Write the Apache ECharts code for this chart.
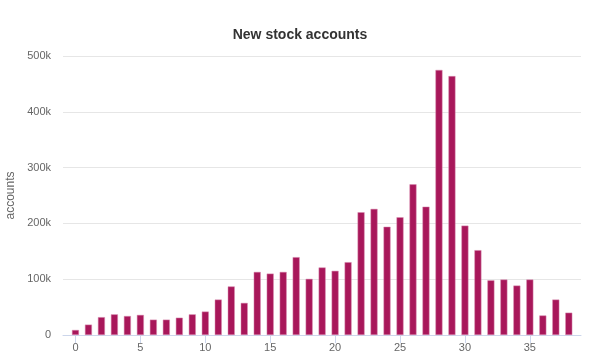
<!DOCTYPE html>
<html>
<head>
<meta charset="utf-8">
<script src="https://cdn.jsdelivr.net/npm/echarts@6/dist/echarts.min.js"></script>
<style>html,body{margin:0;padding:0;background:#fff}#c{width:600px;height:363px}</style>
</head>
<body>
<div id="c"></div>
<script>
var titleText = 'New stock accounts';
var yAxisName = 'accounts';
var xValues = [0,1,2,3,4,5,6,7,8,9,10,11,12,13,14,15,16,17,18,19,20,21,22,23,24,25,26,27,28,29,30,31,32,33,34,35,36,37,38];
var accounts = [9000,18600,32000,37000,34000,36000,27500,27500,31000,37000,42000,63500,87000,57500,113000,110000,113000,139500,100600,121000,115000,130500,220000,226000,194000,211000,270000,230000,475000,464000,196000,152000,98000,99400,88600,99400,35000,63500,40000];
var xTickValues = [0,5,10,15,20,25,30,35];

var chart = echarts.init(document.getElementById('c'), null, {renderer:'canvas'});
chart.setOption({
  animation: false,
  title: {
    text: titleText, left: 'center', top: 23,
    textStyle: {fontFamily: 'Liberation Sans', fontSize: 14, fontWeight: 'bold', color: '#333333'}
  },
  grid: {left: 63, right: 19, top: 56, bottom: 28, containLabel: false, outerBoundsMode: 'none'},
  xAxis: {
    type: 'value', min: -0.96, max: 38.94,
    axisLine: {show: true, lineStyle: {color: '#ccd6eb'}},
    axisTick: {show: true, customValues: xTickValues, length: 8, lineStyle: {color: '#ccd6eb'}},
    axisLabel: {customValues: xTickValues, color: '#666666', fontFamily: 'Liberation Sans', fontSize: 11, margin: 7},
    splitLine: {show: false}
  },
  yAxis: {
    type: 'value', min: 0, max: 500000, interval: 100000,
    name: yAxisName, nameLocation: 'middle', nameGap: 41,
    nameTextStyle: {color: '#666666', fontFamily: 'Liberation Sans', fontSize: 12},
    axisLine: {show: false}, axisTick: {show: false},
    axisLabel: {
      color: '#666666', fontFamily: 'Liberation Sans', fontSize: 11, margin: 12,
      formatter: function (v) { return v === 0 ? '0' : (v / 1000) + 'k'; }
    },
    splitLine: {lineStyle: {color: '#e6e6e6'}}
  },
  series: [{
    type: 'bar',
    data: xValues.map(function (x, i) { return [x, accounts[i]]; }),
    barWidth: 7,
    itemStyle: {color: '#a8175a', borderColor: '#d98cb0', borderWidth: 0.5}
  }]
});
</script>
</body>
</html>
